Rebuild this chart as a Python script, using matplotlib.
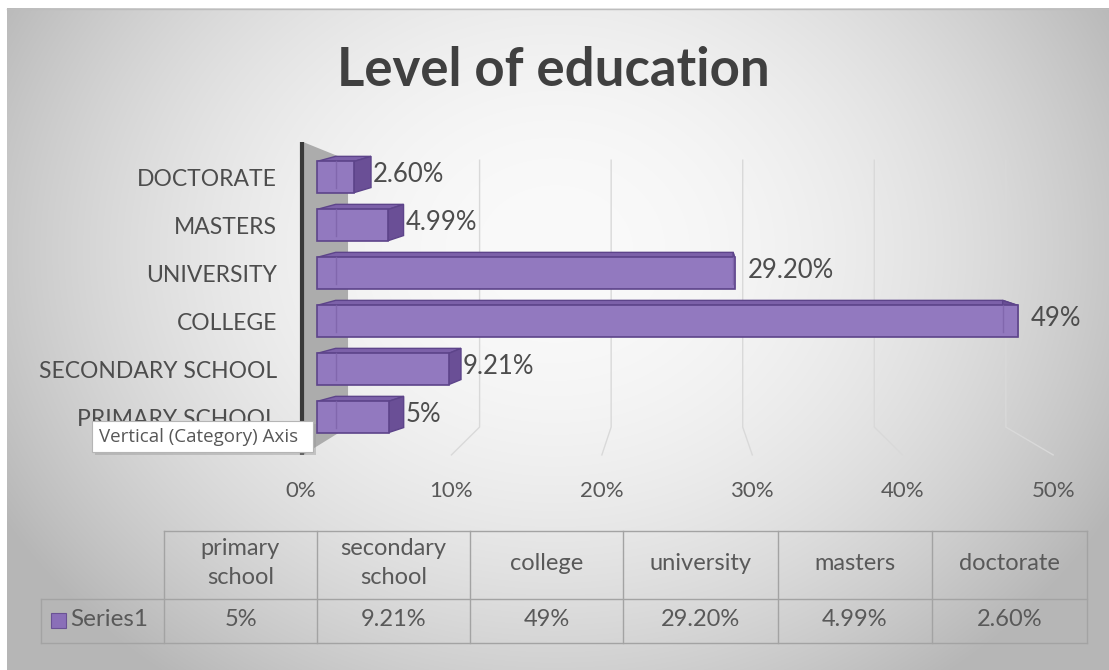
import numpy as np
import matplotlib
matplotlib.use("Agg")
import matplotlib.pyplot as plt
from matplotlib.patches import Polygon, Rectangle

# data
categories = ["PRIMARY SCHOOL", "SECONDARY SCHOOL", "COLLEGE", "UNIVERSITY", "MASTERS", "DOCTORATE"]
values = [5.0, 9.21, 49.0, 29.20, 4.99, 2.60]
value_labels = ["5%", "9.21%", "49%", "29.20%", "4.99%", "2.60%"]
table_headers = ["primary\nschool", "secondary\nschool", "college", "university", "masters", "doctorate"]
series_name = "Series1"
xticks = [0, 10, 20, 30, 40, 50]
xtick_labels = ["0%", "10%", "20%", "30%", "40%", "50%"]
title = "Level of education"

plt.rcParams['font.family'] = ['Lato', 'DejaVu Sans']

# fake 3d perspective (data units = percent)
def back_wall(t):
    return 2.17 + 0.92 * t

def floor_front(t):
    return -1.12 + 1.052 * t

def bar_back(t):
    return t + 0.6 * (back_wall(t) - t)

W, H = 1109, 670
fig = plt.figure(figsize=(W / 100, H / 100), dpi=100)

# background with radial grey gradient
bg = fig.add_axes([0, 0, 1, 1], zorder=0)
bg.set_xlim(0, W)
bg.set_ylim(H, 0)
bg.axis('off')
X, Y = np.meshgrid(np.arange(7, W), np.arange(8, H))
r2 = ((X - 555) / 560.0) ** 2 + ((Y - 250) / 470.0) ** 2
shade = np.clip(250 - 52 * r2, 182, 250) / 255.0
bg.imshow(np.dstack([shade, shade, shade]), extent=(7, W, H, 8), aspect='auto', zorder=0)
bg.plot([7, W], [8.5, 8.5], color='#bdbdbd', lw=1, zorder=1)

bg.text(553, 70, title, ha='center', va='center', fontsize=38, fontweight='bold', color='#404040')

# main chart
ax = fig.add_axes([280 / W, (H - 480) / H, 820 / W, 350 / H], zorder=1)
ax.set_xlim(-37 / 14.3, (1100 - 317) / 14.3)
ax.set_ylim((417 - 480) / 48.0, (417 - 130) / 48.0)
ax.patch.set_alpha(0)
for s in ax.spines.values():
    s.set_visible(False)

# side wall + axis line
wall_top_f, wall_top_b, wall_bot_b, wall_bot_f = 5.73, 5.35, -0.21, -0.79
ax.add_patch(Polygon([(-0.98, wall_top_f), (back_wall(0), wall_top_b),
                      (back_wall(0), wall_bot_b), (-0.98, wall_bot_f)],
                     closed=True, facecolor='#acacac', edgecolor='none', zorder=1))
ax.plot([-1.05, -1.05], [wall_top_f, wall_bot_f], color='#3a3a3a', lw=3,
        solid_capstyle='butt', zorder=2)

# back wall gridlines + floor lines
for t in xticks[1:]:
    ax.plot([back_wall(t), back_wall(t), floor_front(t)],
            [wall_top_b, wall_bot_b, wall_bot_f], color='#d9d9d9', lw=1, zorder=1)

h = 0.65
dy = 0.105
edge = '#5d448a'
for i, v in enumerate(values):
    b0 = bar_back(0)
    bv = bar_back(v)
    top = i + h / 2
    bot = i - h / 2
    ax.add_patch(Polygon([(0, top), (v, top), (bv, top + dy), (b0, top + dy)],
                         closed=True, facecolor='#7c61a9', edgecolor=edge, lw=1, zorder=3))
    ax.add_patch(Polygon([(v, bot), (v, top), (bv, top + dy), (bv, bot + dy)],
                         closed=True, facecolor='#6a4f96', edgecolor=edge, lw=1, zorder=3))
    ax.barh(i, v, height=h, color='#9279bf', edgecolor=edge, lw=1.2, zorder=4)
    ax.plot([b0, b0], [bot + dy, top], color='#7a60a6', lw=1, alpha=0.7, zorder=5)
    if bv < v:
        ax.plot([bv, bv], [bot + dy, top], color='#7a60a6', lw=1, alpha=0.7, zorder=5)
    off = 2 if bv > v else 13
    ax.annotate(value_labels[i], (max(v, bv), i + dy / 2), xytext=(off, 0),
                textcoords='offset pixels', ha='left', va='center',
                fontsize=18.5, color='#4d4d4d', zorder=6)

ax.set_yticks(range(len(categories)), categories)
ax.tick_params(axis='y', length=0, pad=2, labelsize=16.5, labelcolor='#4d4d4d')
ax.set_xticks([floor_front(t) for t in xticks], xtick_labels)
ax.tick_params(axis='x', length=0, pad=1, labelsize=16, labelcolor='#595959')

# data table
cols = [164, 317, 470, 623, 778, 932, 1087]
y_top, y_mid, y_bot = 531, 599, 643
left = 41
lc = '#a3a3a3'
bg.plot([cols[0], cols[-1]], [y_top, y_top], color=lc, lw=1, zorder=2)
bg.plot([left, cols[-1]], [y_mid, y_mid], color=lc, lw=1, zorder=2)
bg.plot([left, cols[-1]], [y_bot, y_bot], color=lc, lw=1, zorder=2)
bg.plot([left, left], [y_mid, y_bot], color=lc, lw=1, zorder=2)
for x in cols:
    bg.plot([x, x], [y_top, y_bot], color=lc, lw=1, zorder=2)
for j, name in enumerate(table_headers):
    cx = (cols[j] + cols[j + 1]) / 2
    bg.text(cx, 563, name, ha='center', va='center', fontsize=17,
            linespacing=1.45, color='#595959', zorder=3)
    bg.text(cx, 620, value_labels[j], ha='center', va='center', fontsize=17,
            color='#595959', zorder=3)
bg.add_patch(Rectangle((51, 613), 15, 15, facecolor='#8a6fb8', edgecolor='#6a5294', lw=0.8, zorder=3))
bg.text(70, 620, series_name, ha='left', va='center', fontsize=17.5, color='#595959', zorder=3)

# tooltip over the category axis
fg = fig.add_axes([0, 0, 1, 1], zorder=2)
fg.set_xlim(0, W)
fg.set_ylim(H, 0)
fg.axis('off')
fg.add_patch(Rectangle((95, 424), 221, 31, facecolor='#9a9a9a', edgecolor='none', alpha=0.45))
fg.add_patch(Rectangle((92, 421), 221, 31, facecolor='white', edgecolor='#b5b5b5', lw=0.8))
fg.text(99, 437, "Vertical (Category) Axis", ha='left', va='center', fontsize=13.5,
        color='#575757', family=['Open Sans', 'DejaVu Sans'])

fig.savefig('out.png', dpi=100)
